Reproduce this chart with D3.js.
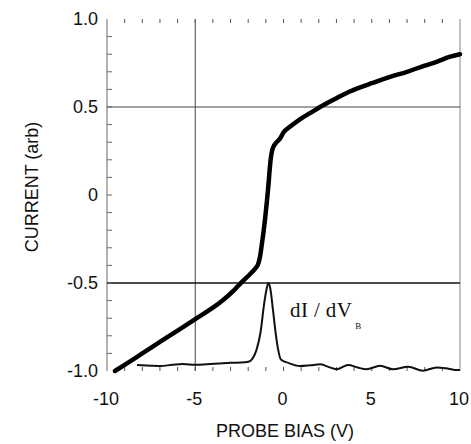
<!DOCTYPE html>
<html>
<head>
<meta charset="utf-8">
<script src="https://cdn.jsdelivr.net/npm/d3@7"></script>
<style>
  html, body { margin: 0; padding: 0; background: #fff; }
  svg { display: block; }
  .tick-label { font-family: "Liberation Sans", Arial, sans-serif; font-size: 18px; fill: #111; }
  .axis-title { font-family: "Liberation Sans", Arial, sans-serif; font-size: 18px; fill: #111; }
  .curve-label { font-family: "Liberation Serif", "Times New Roman", serif; fill: #111; }
</style>
</head>
<body>
<svg id="chart" width="471" height="444"></svg>
<script>
// probe I-V characteristic (bias V, current arb)
const ivBias = [-9.55, -9.0, -8.0, -7.0, -6.0, -5.0, -4.0, -3.4, -2.84, -2.37, -1.9, -1.6, -1.43, -1.33, -1.24,
  -1.05, -0.86, -0.73, -0.61, -0.39, -0.2, 0.0, 0.4, 0.93, 1.5, 2.07, 3.0, 3.58, 4.3, 5.0, 6.0, 7.0, 8.0, 8.68, 9.4, 10.0]
const ivCurrent = [-1.0, -0.965, -0.90, -0.835, -0.77, -0.705, -0.64, -0.595, -0.545, -0.495, -0.45, -0.418, -0.39, -0.35, -0.29,
  -0.14, 0.05, 0.20, 0.265, 0.30, 0.32, 0.355, 0.39, 0.43, 0.465, 0.50, 0.55, 0.58, 0.61, 0.635, 0.67, 0.70, 0.735, 0.757, 0.785, 0.80]

// derivative trace dI/dV_B (same bias axis, plotted on current scale)
const dBias = [-8.3, -7.5, -7.0, -6.3, -5.7, -5.0, -4.35, -3.7, -3.0, -2.4, -2.0, -1.8, -1.5, -1.3, -1.1, -0.95,
  -0.86, -0.75, -0.6, -0.45, -0.3, -0.15, 0.3, 0.93, 1.5, 2.07, 2.5, 3.0, 3.67, 4.2, 4.7, 5.47, 6.2, 7.07, 7.9, 8.68, 9.2, 9.7, 10.0]
const dValue = [-0.966, -0.97, -0.972, -0.965, -0.96, -0.965, -0.962, -0.958, -0.953, -0.952, -0.948, -0.935, -0.87, -0.78,
  -0.62, -0.53, -0.50, -0.53, -0.65, -0.78, -0.88, -0.935, -0.955, -0.972, -0.968, -0.962, -0.975, -0.99, -0.966, -0.98,
  -0.99, -0.97, -0.99, -0.976, -0.998, -0.98, -0.985, -0.994, -0.995]

const xTicks = [-10, -5, 0, 5, 10]
const yTicks = [-1.0, -0.5, 0, 0.5, 1.0]
const yTickText = ['-1.0', '-0.5', '0', '0.5', '1.0']
const xGrid = [-5]
const yGrid = [0.5, -0.5]

const svg = d3.select('#chart')
const x = d3.scaleLinear().domain([-10, 10]).range([107, 460])
const y = d3.scaleLinear().domain([-1, 1]).range([371, 19])

// frame: left axis + right edge line (no top/bottom lines, only ticks)
svg.append('line').attr('x1', x(-10)).attr('x2', x(-10)).attr('y1', y(1)).attr('y2', y(-1))
  .attr('stroke', '#666').attr('stroke-width', 1)
svg.append('line').attr('x1', x(10)).attr('x2', x(10)).attr('y1', y(1)).attr('y2', y(-1))
  .attr('stroke', '#888').attr('stroke-width', 1)

// grid lines
svg.selectAll('line.vgrid').data(xGrid).enter().append('line').attr('class', 'vgrid')
  .attr('x1', d => x(d)).attr('x2', d => x(d)).attr('y1', y(1)).attr('y2', y(-1))
  .attr('stroke', '#444').attr('stroke-width', 1)
svg.selectAll('line.hgrid').data(yGrid).enter().append('line').attr('class', 'hgrid')
  .attr('x1', x(-10)).attr('x2', x(10)).attr('y1', d => y(d)).attr('y2', d => y(d))
  .attr('stroke', d => d < 0 ? '#111' : '#444').attr('stroke-width', d => d < 0 ? 1.3 : 1)

// minor ticks: every 1 V on top (down) and bottom (up), every 0.1 on left (right)
const xMinor = d3.range(-9, 10, 1)
svg.selectAll('line.ttick').data(xMinor).enter().append('line').attr('class', 'ttick')
  .attr('x1', d => x(d)).attr('x2', d => x(d)).attr('y1', y(1)).attr('y2', y(1) + 4)
  .attr('stroke', '#555').attr('stroke-width', 1)
svg.selectAll('line.btick').data(xMinor).enter().append('line').attr('class', 'btick')
  .attr('x1', d => x(d)).attr('x2', d => x(d)).attr('y1', y(-1)).attr('y2', y(-1) - 4)
  .attr('stroke', '#555').attr('stroke-width', 1)
const yMinor = d3.range(-9, 10, 1).map(v => v / 10)
svg.selectAll('line.ltick').data(yMinor).enter().append('line').attr('class', 'ltick')
  .attr('x1', x(-10)).attr('x2', x(-10) + 5).attr('y1', d => y(d)).attr('y2', d => y(d))
  .attr('stroke', '#666').attr('stroke-width', 1)

// tick labels
svg.selectAll('text.xl').data(xTicks).enter().append('text').attr('class', 'tick-label xl')
  .attr('x', d => x(d) - 1).attr('y', 405).attr('text-anchor', 'middle').text(d => d)
svg.selectAll('text.yl').data(yTicks).enter().append('text').attr('class', 'tick-label yl')
  .attr('x', 98).attr('y', d => y(d)).attr('dy', '0.35em').attr('text-anchor', 'end')
  .text((d, i) => yTickText[i])

// axis titles
svg.append('text').attr('class', 'axis-title').attr('x', 285).attr('y', 437)
  .attr('text-anchor', 'middle').text('PROBE BIAS (V)')
svg.append('text').attr('class', 'axis-title')
  .attr('transform', 'translate(38,187) rotate(-90)')
  .attr('text-anchor', 'middle').text('CURRENT (arb)')

// curves
const line = d3.line().x(d => x(d[0])).y(d => y(d[1])).curve(d3.curveMonotoneX)
svg.append('path').datum(d3.zip(dBias, dValue)).attr('d', line)
  .attr('fill', 'none').attr('stroke', '#111').attr('stroke-width', 2).attr('stroke-linejoin', 'round')
svg.append('path').datum(d3.zip(ivBias, ivCurrent)).attr('d', line)
  .attr('fill', 'none').attr('stroke', '#000').attr('stroke-width', 4.5)
  .attr('stroke-linejoin', 'round').attr('stroke-linecap', 'round')

// dI / dV_B label
const lab = svg.append('text').attr('class', 'curve-label').attr('x', 290).attr('y', 317)
lab.append('tspan').attr('font-size', 21).attr('letter-spacing', 0.4).text('dI / dV')
lab.append('tspan').attr('font-size', 9).attr('dx', 3).attr('dy', 12).text('B')
</script>
</body>
</html>
